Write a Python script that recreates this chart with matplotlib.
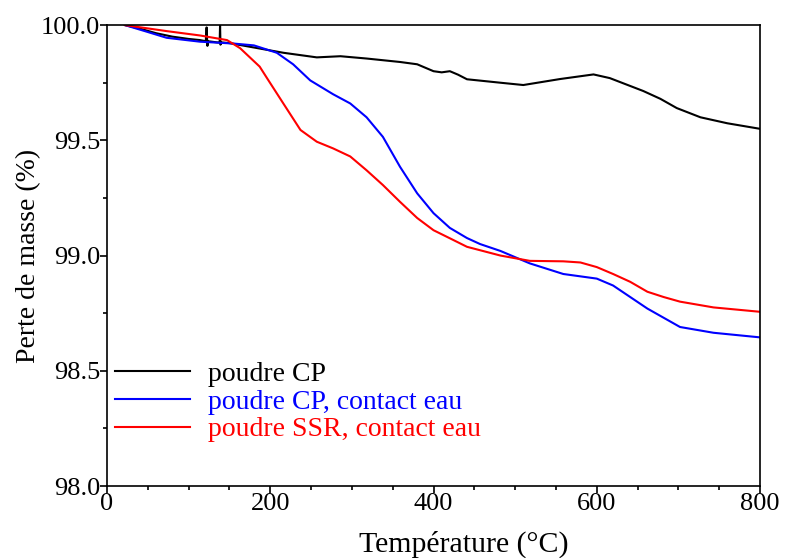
import matplotlib
matplotlib.use("Agg")
import matplotlib.pyplot as plt
from matplotlib.ticker import MultipleLocator, FormatStrFormatter

plt.rcParams["font.family"] = ["Liberation Serif", "DejaVu Serif"]

# données (température en °C, masse en %)
T_CP = [22, 40, 60, 80, 100, 114, 121, 122, 123, 124, 135, 138, 138.5, 139, 140,
        150, 175, 216, 257, 286, 318, 359, 380, 400, 410, 420, 430, 441, 482,
        510, 555, 596, 616, 657, 678, 698, 727, 760, 800]
M_CP = [100.0, 99.985, 99.965, 99.95, 99.94, 99.935, 99.93, 99.99, 99.91, 99.93,
        99.925, 99.925, 100.0, 99.915, 99.925,
        99.922, 99.906, 99.88, 99.86, 99.865, 99.855, 99.84, 99.83, 99.80,
        99.795, 99.80, 99.785, 99.765, 99.75, 99.74, 99.766, 99.786, 99.77,
        99.714, 99.68, 99.64, 99.60, 99.574, 99.55]

T_CP_EAU = [22, 50, 73, 114, 155, 180, 208, 228, 249, 277, 298, 318, 338, 359,
            380, 400, 420, 441, 457, 482, 518, 559, 600, 620, 641, 662, 682,
            702, 743, 800]
M_CP_EAU = [100.0, 99.97, 99.945, 99.928, 99.92, 99.912, 99.88, 99.83, 99.76,
            99.70, 99.66, 99.60, 99.515, 99.385, 99.27, 99.184, 99.12, 99.076,
            99.05, 99.02, 98.966, 98.92, 98.90, 98.87, 98.82, 98.77, 98.73,
            98.69, 98.665, 98.645]

T_SSR = [22, 73, 114, 147, 163, 175, 187, 196, 216, 237, 257, 277, 298, 318,
         338, 359, 380, 400, 420, 441, 482, 518, 559, 580, 600, 620, 641, 662,
         682, 702, 743, 800]
M_SSR = [100.0, 99.974, 99.955, 99.935, 99.90, 99.86, 99.82, 99.77, 99.66,
         99.545, 99.494, 99.465, 99.43, 99.37, 99.306, 99.233, 99.163, 99.11,
         99.075, 99.038, 99.0, 98.977, 98.975, 98.97, 98.95, 98.92, 98.886,
         98.843, 98.82, 98.80, 98.775, 98.756]

LABELS = ["poudre CP", "poudre CP, contact eau", "poudre SSR, contact eau"]
COLORS = ["black", "#0000ff", "#ff0000"]

fig = plt.figure(figsize=(7.88, 5.58), dpi=100)
ax = fig.add_axes([0.1358, 0.129, 0.8287, 0.826])

series = [(T_CP, M_CP), (T_CP_EAU, M_CP_EAU), (T_SSR, M_SSR)]
for (t, m), lab, c in zip(series, LABELS, COLORS):
    ax.plot(t, m, color=c, lw=1.5, label=lab)

ax.set_xlim(0, 800)
ax.set_ylim(98.0, 100.0)
ax.xaxis.set_major_locator(MultipleLocator(200))
ax.xaxis.set_minor_locator(MultipleLocator(50))
ax.yaxis.set_major_locator(MultipleLocator(0.5))
ax.yaxis.set_minor_locator(MultipleLocator(0.25))
ax.yaxis.set_major_formatter(FormatStrFormatter("%.1f"))

ax.tick_params(which="both", direction="out", top=False, right=False,
               labelsize=19, width=1.2)
ax.tick_params(which="major", length=5, pad=0)
ax.tick_params(which="minor", length=3)
for s in ax.spines.values():
    s.set_linewidth(1.2)

ax.set_xlabel("Température (°C)", fontsize=21.5)
ax.xaxis.set_label_coords(0.547, -0.096)
ax.set_ylabel("Perte de masse (%)", fontsize=20, labelpad=0)

leg = ax.legend(loc="lower left", bbox_to_anchor=(0.012, 0.095), frameon=False,
                fontsize=20, handlelength=2.7, handletextpad=0.65,
                labelspacing=0.08, borderaxespad=0, borderpad=0)
for txt, c in zip(leg.get_texts(), COLORS):
    txt.set_color(c)

fig.savefig("out.png", dpi=100)
